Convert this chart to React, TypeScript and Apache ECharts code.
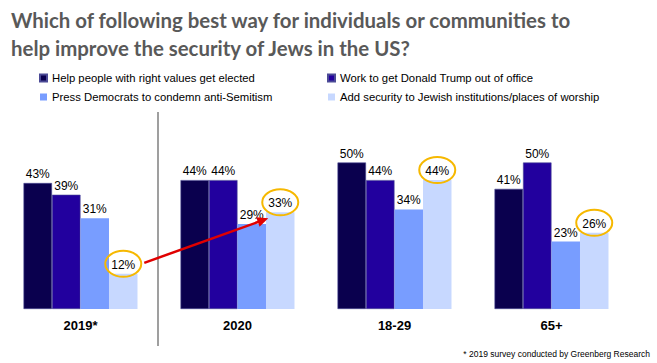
import React, { useEffect, useRef } from "react";
import * as echarts from "echarts";

const categories = ["2019*", "2020", "18-29", "65+"];
const seriesNames = [
  "Help people with right values get elected",
  "Work to get Donald Trump out of office",
  "Press Democrats to condemn anti-Semitism",
  "Add security to Jewish institutions/places of worship",
];
const helpElected = [43, 44, 50, 41];
const trumpOut = [39, 44, 44, 50];
const pressDems = [31, 29, 34, 23];
const addSecurity = [12, 33, 44, 26];
const colors = ["#0a004e", "#22009e", "#789dff", "#c7d8ff"];

const CAT_GAP = 0.274;

export default function App() {
  const ref = useRef<HTMLDivElement>(null);
  useEffect(() => {
    if (!ref.current) return;
    const chart = echarts.init(ref.current, null, { renderer: "svg" });
    const values = [helpElected, trumpOut, pressDems, addSecurity];
    const barSeries = values.map((v, i) => ({
      type: "bar",
      name: seriesNames[i],
      data: v,
      barGap: "0%",
      barCategoryGap: CAT_GAP * 100 + "%",
      itemStyle: {
        color: colors[i],
        borderColor: i < 2 ? "#4b4a96" : colors[i],
        borderWidth: i < 2 ? 0.6 : 0,
      },
      label: {
        show: true,
        position: "top",
        distance: 3,
        formatter: "{c}%",
        color: "#000",
        fontSize: 12,
        fontFamily: "Liberation Sans, Arial, sans-serif",
      },
    }));
    const highlight = {
      type: "custom",
      silent: true,
      z: 5,
      data: addSecurity.map((v, i) => [i, v]),
      renderItem: (params: any, api: any) => {
        const idx = params.dataIndex;
        const pt = api.coord([idx, api.value(1)]);
        const band = api.size([1, 0])[0];
        const barW = (band * (1 - CAT_GAP)) / 4;
        const cx = pt[0] + 1.5 * barW;
        const cy = pt[1] - 10;
        const children: any[] = [
          {
            type: "ellipse",
            shape: { cx, cy, rx: 18, ry: 13 },
            style: { fill: "none", stroke: "#f6b800", lineWidth: 2 },
          },
        ];
        if (idx === 0) {
          const np = api.coord([1, addSecurity[1]]);
          const ex = np[0] + 1.5 * barW - 12;
          const ey = np[1] + 6;
          const sx = cx + 21;
          const sy = cy - 1;
          const dx = ex - sx;
          const dy = ey - sy;
          const len = Math.sqrt(dx * dx + dy * dy);
          const ux = dx / len;
          const uy = dy / len;
          const nx = -uy;
          const ny = ux;
          children.push({
            type: "line",
            shape: { x1: sx, y1: sy, x2: ex - ux * 8, y2: ey - uy * 8 },
            style: { stroke: "#e00000", lineWidth: 2.5 },
          });
          children.push({
            type: "polygon",
            shape: {
              points: [
                [ex, ey],
                [ex - ux * 11 + nx * 5, ey - uy * 11 + ny * 5],
                [ex - ux * 11 - nx * 5, ey - uy * 11 - ny * 5],
              ],
            },
            style: { fill: "#e00000" },
          });
        }
        return { type: "group", children };
      },
    };
    const legendCommon = {
      orient: "vertical",
      icon: "rect",
      itemWidth: 7,
      itemHeight: 7,
      itemGap: 5,
      top: 66,
      textStyle: {
        fontSize: 11.3,
        color: "#000",
        lineHeight: 14,
        fontFamily: "Liberation Sans, Arial, sans-serif",
      },
      selectedMode: false,
    };
    chart.setOption({
      animation: false,
      title: {
        text: "Which of following best way for individuals or communities to\nhelp improve the security of Jews in the US?",
        left: 6,
        top: 1,
        textStyle: {
          fontSize: 20.4,
          fontWeight: "bold",
          color: "#595959",
          lineHeight: 28,
          fontFamily: "Lato, sans-serif",
        },
      },
      legend: [
        { ...legendCommon, left: 34, data: [seriesNames[0], seriesNames[2]] },
        { ...legendCommon, left: 322, data: [seriesNames[1], seriesNames[3]] },
      ],
      grid: { left: 2, right: 27, top: 162.5, bottom: 54 },
      xAxis: {
        type: "category",
        data: categories,
        axisLine: { show: false },
        axisTick: { show: false },
        axisLabel: {
          margin: 10,
          fontSize: 13,
          fontWeight: "bold",
          color: "#000",
          fontFamily: "Liberation Sans, Arial, sans-serif",
        },
      },
      yAxis: {
        type: "value",
        min: 0,
        max: 50,
        show: false,
        splitLine: { show: false },
      },
      graphic: [
        {
          type: "line",
          shape: { x1: 158, y1: 112, x2: 158, y2: 346 },
          style: { stroke: "#7f7f7f", lineWidth: 1.5 },
        },
        {
          type: "text",
          right: 7,
          top: 349,
          style: {
            text: "* 2019 survey conducted by Greenberg Research",
            fontSize: 8.5,
            fill: "#000",
            fontFamily: "Liberation Sans, Arial, sans-serif",
          },
        },
      ],
      series: [...barSeries, highlight],
    });
    return () => chart.dispose();
  }, []);
  return <div ref={ref} style={{ width: 657, height: 363, position: "fixed", left: 0, top: 0, background: "#fff" }} />;
}
